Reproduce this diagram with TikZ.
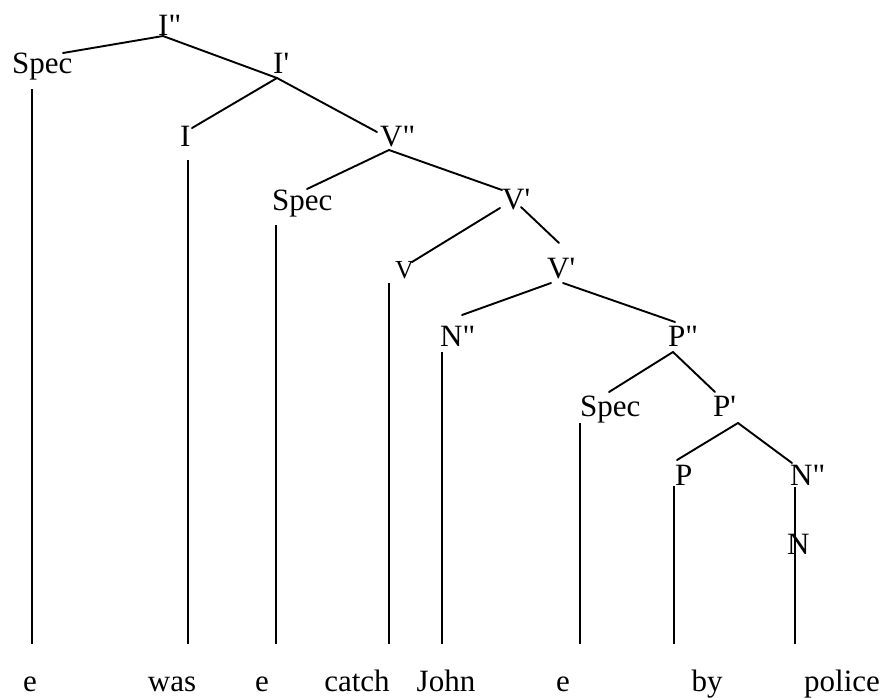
\documentclass[tikz,border=0pt]{standalone}
\usepackage{fontspec}
\setmainfont{Liberation Serif}[Ligatures=TeXOff]
\begin{document}
\begin{tikzpicture}[x=1pt,y=-1pt,
  lab/.style={anchor=base west,inner sep=0pt,font=\fontsize{31}{36}\selectfont},
  smalllab/.style={anchor=base west,inner sep=0pt,font=\fontsize{26}{30}\selectfont},
  word/.style={anchor=base,inner sep=0pt,font=\fontsize{31}{36}\selectfont},
  branch/.style={line width=1.9pt,line cap=round},
  stem/.style={line width=1.8pt}]
\useasboundingbox (0,0) rectangle (886,697);

% category labels
\node[lab] (Ipp)   at (158,35)  {I"};
\node[lab] (SpecA) at (12,73)   {Spec};
\node[lab] (Ip)    at (273,73)  {I'};
\node[lab] (I)     at (180,146) {I};
\node[lab] (Vpp)   at (380,146) {V"};
\node[lab] (SpecB) at (272,210) {Spec};
\node[lab] (VpA)   at (502,209) {V'};
\node[smalllab] (V) at (395,278) {V};
\node[lab] (VpB)   at (547,278) {V'};
\node[lab] (NppA)  at (440,346) {N"};
\node[lab] (Ppp)   at (668,346) {P"};
\node[lab] (SpecC) at (580,416) {Spec};
\node[lab] (Pp)    at (713,416) {P'};
\node[lab] (P)     at (675,485) {P};
\node[lab] (NppB)  at (790,485) {N"};
\node[lab] (N)     at (787,554) {N};

% terminal words
\node[word] (w1) at (30,691)  {e};
\node[word] (w2) at (172,691) {was};
\node[word] (w3) at (262,691) {e};
\node[word] (w4) at (357,691) {catch};
\node[word] (w5) at (446,691) {John};
\node[word] (w6) at (563,691) {e};
\node[word] (w7) at (707,691) {by};
\node[word] (w8) at (842,691) {police};

% branch end points
\coordinate (jIpp)  at (163,36);
\coordinate (eSpecA) at (63,53);
\coordinate (jIp)   at (277,78);
\coordinate (eI)    at (192,128);
\coordinate (eVpp)  at (377,132);
\coordinate (jVpp)  at (389,150);
\coordinate (eSpecB) at (307,189);
\coordinate (eVpA)  at (502,190);
\coordinate (jVpAl) at (500,208);
\coordinate (jVpAr) at (521,207);
\coordinate (eV)    at (412,262);
\coordinate (eVpB)  at (559,243);
\coordinate (jVpBl) at (551,283);
\coordinate (jVpBr) at (563,283);
\coordinate (eNppA) at (462,315);
\coordinate (ePpp)  at (675,322);
\coordinate (jPpp)  at (673,352);
\coordinate (eSpecC) at (609,392);
\coordinate (ePp)   at (715,392);
\coordinate (jPp)   at (738,423);
\coordinate (eP)    at (677,460);
\coordinate (eNppB) at (792,463);

% branches
\draw[branch] (eSpecA) -- (jIpp);
\draw[branch] (jIpp) -- (jIp);
\draw[branch] (jIp) -- (eI);
\draw[branch] (jIp) -- (eVpp);
\draw[branch] (jVpp) -- (eSpecB);
\draw[branch] (jVpp) -- (eVpA);
\draw[branch] (jVpAl) -- (eV);
\draw[branch] (jVpAr) -- (eVpB);
\draw[branch] (jVpBl) -- (eNppA);
\draw[branch] (jVpBr) -- (ePpp);
\draw[branch] (jPpp) -- (eSpecC);
\draw[branch] (jPpp) -- (ePp);
\draw[branch] (jPp) -- (eP);
\draw[branch] (jPp) -- (eNppB);

% stems down to the words
\coordinate (s1) at (32,89);   \coordinate (b1) at (32,644);
\coordinate (s2) at (188,160); \coordinate (b2) at (188,644);
\coordinate (s3) at (276,225); \coordinate (b3) at (276,644);
\coordinate (s4) at (389,283); \coordinate (b4) at (389,644);
\coordinate (s5) at (442,352); \coordinate (b5) at (442,644);
\coordinate (s6) at (580,423); \coordinate (b6) at (580,644);
\coordinate (s7) at (674,486); \coordinate (b7) at (674,644);
\coordinate (s8) at (795,487); \coordinate (b8) at (795,644);
\foreach \k in {1,...,8} \draw[stem] (s\k) -- (b\k);
\end{tikzpicture}
\end{document}
